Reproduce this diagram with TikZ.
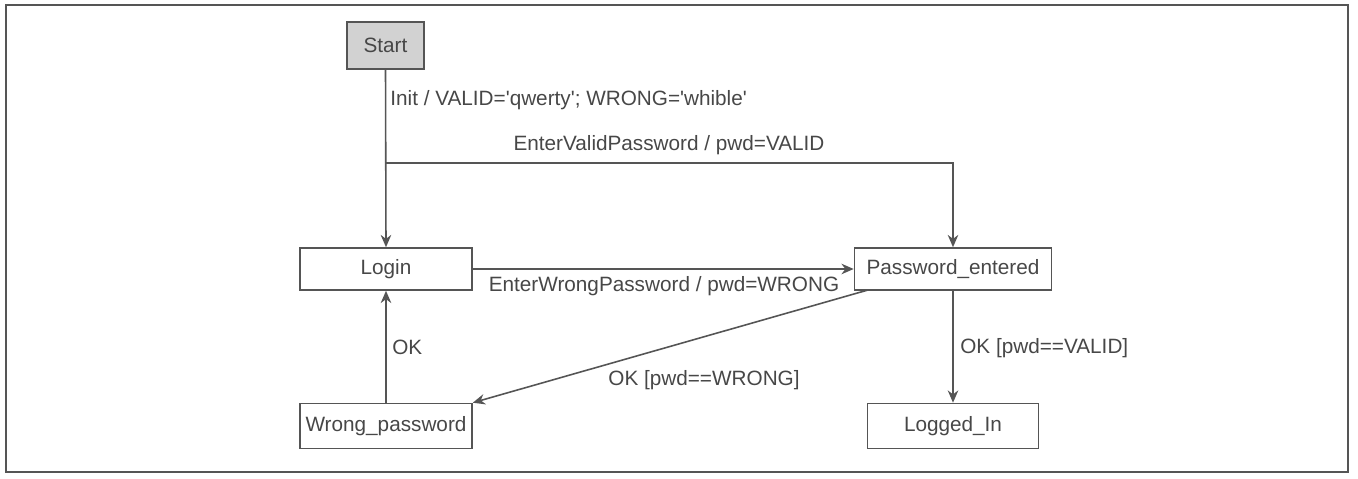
\documentclass[tikz,border=0pt]{standalone}
\usepackage{fontspec}
\setmainfont{Liberation Sans}
\usetikzlibrary{arrows.meta}
\definecolor{linec}{HTML}{555555}
\definecolor{textc}{HTML}{474747}
\definecolor{startfill}{HTML}{D2D2D2}
\begin{document}
\begin{tikzpicture}[x=0.02cm,y=-0.02cm,
  state/.style={draw=linec,line width=0.9pt,rectangle,inner sep=0pt,text=textc,font=\fontsize{11.8}{13}\selectfont},
  conn/.style={draw=linec,line width=0.9pt,-{Stealth[length=7pt,width=6pt]}},
  lab/.style={text=textc,font=\fontsize{11.8}{13}\selectfont,inner sep=0pt}]
\useasboundingbox (0,0) rectangle (1358,479);
\draw[linec,line width=0.9pt] (6,5) rectangle (1348,472);
\node[state,fill=startfill,minimum width=77*0.02cm,minimum height=47*0.02cm] (start) at (385.5,45.5) {Start};
\node[state,minimum width=172*0.02cm,minimum height=42*0.02cm] (login) at (386,269) {Login};
\node[state,minimum width=197*0.02cm,minimum height=42*0.02cm] (pwd) at (953,269) {Password\_entered};
\node[state,minimum width=172*0.02cm,minimum height=45*0.02cm] (wrong) at (386,426) {Wrong\_password};
\node[state,minimum width=171*0.02cm,minimum height=45*0.02cm] (logged) at (953,426) {Logged\_In};
\coordinate (br) at (386,163);
\coordinate (pwdsw) at (868,290);
\draw[conn] (start.south) -- (login.north);
\draw[conn] (br) -| (pwd.north);
\draw[conn] (login.east) -- (pwd.west);
\draw[conn] (wrong.north) -- (login.south);
\draw[conn] (pwdsw) -- (wrong.north east);
\draw[conn] (pwd.south) -- (logged.north);
\node[lab,anchor=west] (l1) at (390,100) {Init / VALID=\textquotesingle qwerty\textquotesingle; WRONG=\textquotesingle whible\textquotesingle};
\node[lab] (l2) at (669,145) {EnterValidPassword / pwd=VALID};
\node[lab] (l3) at (664,286) {EnterWrongPassword / pwd=WRONG};
\node[lab,anchor=west] (l4) at (392,347) {OK};
\node[lab] (l5) at (704,380) {OK [pwd==WRONG]};
\node[lab,anchor=west] (l6) at (960,348) {OK [pwd==VALID]};
\end{tikzpicture}
\end{document}
